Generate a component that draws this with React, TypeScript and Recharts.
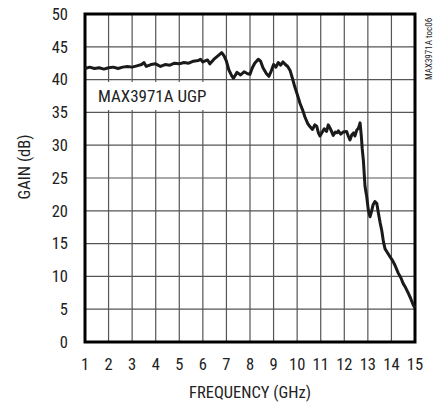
import React from "react";
import { LineChart, Line, XAxis, YAxis, CartesianGrid, ReferenceArea } from "recharts";

const FONT = "'Liberation Sans Narrow', 'Roboto Condensed', 'Arial Narrow', 'Liberation Sans', Arial, sans-serif";

const frequencyGHz = [
  1.0, 1.2, 1.4, 1.6, 1.8, 2.0, 2.2, 2.4, 2.6, 2.8, 3.0, 3.2, 3.4, 3.5, 3.6, 3.8, 4.0, 4.2, 4.4, 4.6,
  4.8, 5.0, 5.2, 5.4, 5.6, 5.8, 5.9, 6.0, 6.2, 6.3, 6.5, 6.7, 6.8, 6.9, 7.0, 7.1, 7.22, 7.3, 7.45, 7.6,
  7.75, 7.9, 8.0, 8.1, 8.2, 8.35, 8.45, 8.55, 8.7, 8.8, 8.9, 9.0, 9.1, 9.2, 9.3, 9.4, 9.5, 9.6, 9.7, 9.8,
  9.9, 10.0, 10.12, 10.25, 10.33, 10.45, 10.55, 10.65, 10.75, 10.83, 10.9, 10.97, 11.05, 11.15, 11.25, 11.32, 11.4, 11.53, 11.62, 11.7,
  11.75, 11.85, 11.95, 12.1, 12.17, 12.24, 12.32, 12.4, 12.45, 12.53, 12.6, 12.67, 12.72, 12.76, 12.81, 12.88, 12.95, 13.02, 13.09, 13.15,
  13.22, 13.3, 13.38, 13.45, 13.52, 13.59, 13.66, 13.73, 13.8, 13.94, 14.05, 14.15, 14.29, 14.4, 14.5, 14.6, 14.72, 14.82, 14.93, 15.0,
];

const gainDb = [
  41.7, 41.9, 41.7, 41.8, 41.6, 41.8, 41.9, 41.7, 41.9, 42.0, 41.9, 42.1, 42.3, 42.6, 42.0, 42.3, 42.4, 42.0, 42.3, 42.2,
  42.5, 42.4, 42.6, 42.5, 42.8, 42.9, 43.1, 42.7, 43.0, 42.4, 43.2, 43.8, 44.1, 43.6, 42.8, 41.5, 40.6, 40.2, 41.1, 40.7,
  41.2, 40.9, 40.8, 41.8, 42.5, 43.1, 42.8, 41.8, 40.9, 40.5, 41.3, 42.3, 41.9, 42.6, 42.2, 42.7, 42.3, 42.0, 41.4, 40.2,
  38.9, 37.8, 36.4, 35.2, 34.3, 33.3, 32.8, 32.4, 33.1, 32.9, 31.9, 31.4, 31.9, 32.5, 32.1, 33.1, 32.6, 31.5, 32.0, 31.9,
  32.2, 31.7, 32.0, 32.1, 31.4, 30.8, 31.6, 31.9, 31.4, 32.3, 32.6, 33.4, 31.5, 29.5, 27.7, 23.7, 22.2, 20.1, 19.1, 19.8,
  20.9, 21.4, 21.1, 19.6, 18.2, 17.0, 15.3, 14.2, 13.8, 13.0, 12.4, 11.7, 10.5, 9.8, 8.9, 8.3, 7.4, 6.6, 5.6, 5.2,
];

const xTicks = [1, 2, 3, 4, 5, 6, 7, 8, 9, 10, 11, 12, 13, 14, 15];
const yTicks = [0, 5, 10, 15, 20, 25, 30, 35, 40, 45, 50];

const xTitle = "FREQUENCY (GHz)";
const yTitle = "GAIN (dB)";
const annotation = "MAX3971A UGP";
const sideNote = "MAX3971A toc06";

const data = frequencyGHz.map((f, i) => ({ f, g: gainDb[i] }));

export default function App() {
  const tickStyle = { fill: "#222", fontSize: 16.5, fontFamily: FONT };
  return (
    <div style={{ position: "absolute", left: 0, top: 0, width: 433, height: 403, background: "#fff" }}>
      <LineChart width={433} height={403} data={data} margin={{ top: 14, right: 18, left: 0, bottom: 0 }}>
        <CartesianGrid stroke="#555" strokeWidth={1.2} />
        <XAxis
          dataKey="f"
          type="number"
          domain={[1, 15]}
          ticks={xTicks}
          interval={0}
          height={61}
          axisLine={false}
          tickLine={false}
          tickSize={0}
          tickMargin={16}
          tick={tickStyle}
        />
        <YAxis
          type="number"
          domain={[0, 50]}
          ticks={yTicks}
          interval={0}
          width={85}
          axisLine={false}
          tickLine={false}
          tickSize={0}
          tickMargin={17}
          tick={tickStyle}
        />
        <Line
          dataKey="g"
          type="linear"
          stroke="#1a1a1a"
          strokeWidth={3}
          strokeLinejoin="round"
          dot={false}
          isAnimationActive={false}
        />
        <ReferenceArea x1={1} x2={15} y1={0} y2={50} fill="none" fillOpacity={0} stroke="#000" strokeWidth={3} />
      </LineChart>
      <div
        style={{
          position: "absolute",
          left: 93,
          top: 82,
          width: 114,
          height: 28,
          background: "#fff",
          fontFamily: FONT,
          fontSize: 17,
          color: "#222",
          lineHeight: "28px",
          paddingLeft: 5,
          boxSizing: "border-box",
          whiteSpace: "nowrap",
        }}
      >
        {annotation}
      </div>
      <div
        style={{
          position: "absolute",
          left: 250,
          top: 392,
          transform: "translate(-50%, -50%)",
          fontFamily: FONT,
          fontSize: 16.5,
          color: "#222",
          whiteSpace: "nowrap",
        }}
      >
        {xTitle}
      </div>
      <div
        style={{
          position: "absolute",
          left: 24,
          top: 167,
          transform: "translate(-50%, -50%) rotate(-90deg)",
          fontFamily: FONT,
          fontSize: 16.5,
          color: "#222",
          whiteSpace: "nowrap",
        }}
      >
        {yTitle}
      </div>
      <div
        style={{
          position: "absolute",
          left: 429,
          top: 49,
          transform: "translate(-50%, -50%) rotate(-90deg)",
          fontFamily: FONT,
          fontSize: 9,
          color: "#222",
          whiteSpace: "nowrap",
        }}
      >
        {sideNote}
      </div>
    </div>
  );
}
